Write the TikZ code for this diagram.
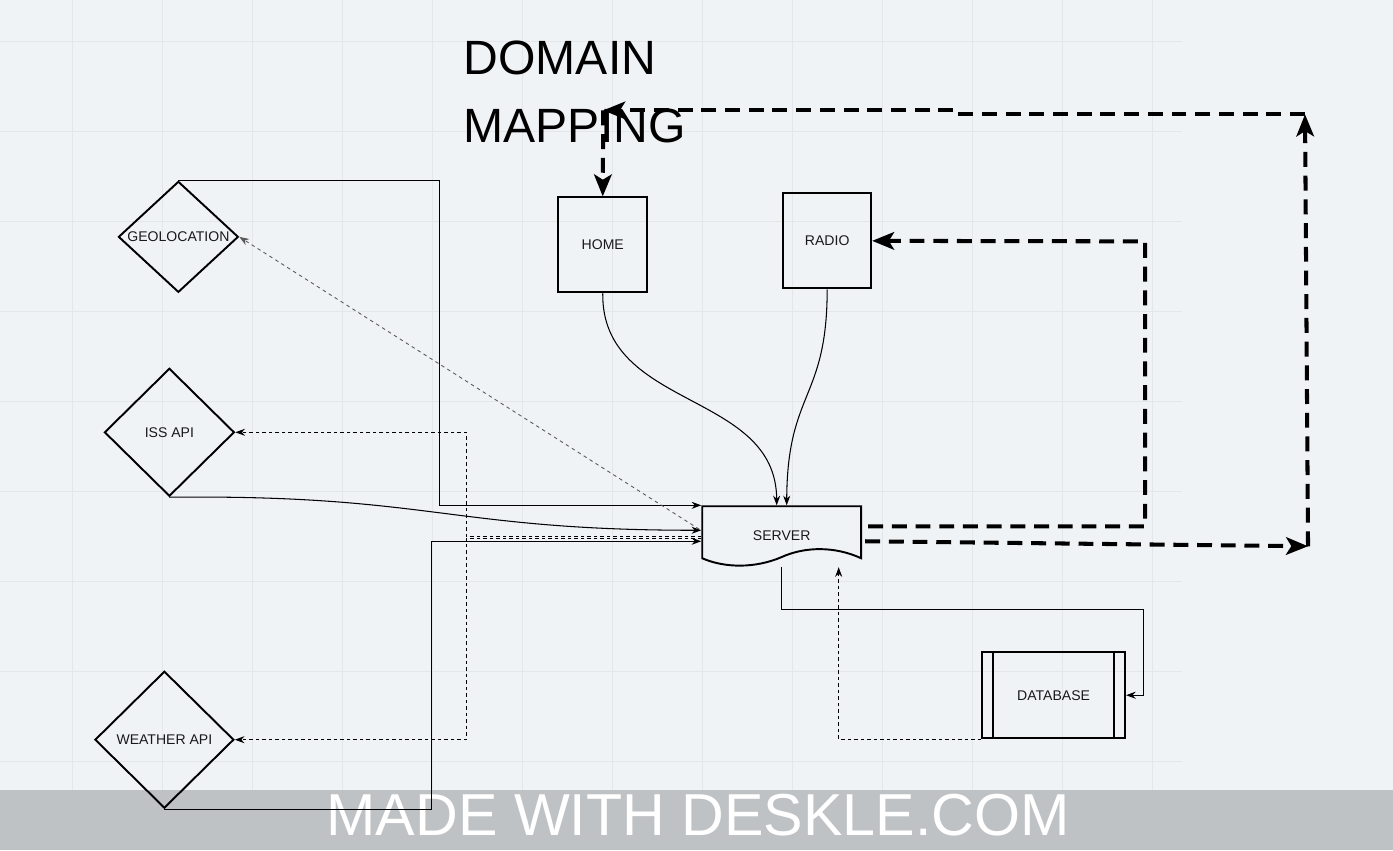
\documentclass[tikz,border=0pt]{standalone}
\usepackage{fontspec}
\setmainfont{Liberation Sans}
\usetikzlibrary{shapes.geometric,arrows.meta,calc}

\definecolor{paper}{HTML}{F0F3F6}
\definecolor{gridline}{HTML}{E3E7EB}
\definecolor{banner}{HTML}{BFC2C5}

\tikzset{
  box/.style={draw, line width=1.1pt, inner sep=0pt, text=black!90, font=\fontsize{8}{9}\selectfont},
  choice/.style={box, diamond},
  link/.style={line width=0.6pt, -{Stealth[length=5.5pt,width=4pt]}},
  dotlink/.style={link, dash pattern=on 2pt off 1.7pt},
  faintlink/.style={link, line width=0.5pt, draw=black!65, dash pattern=on 2pt off 2pt},
  mapping/.style={line width=2.3pt, dash pattern=on 8.5pt off 5pt, -{Stealth[length=12.5pt,width=10pt,inset=3pt]}},
}

\begin{document}
\begin{tikzpicture}[x=0.02cm, y=-0.02cm]

\fill[paper] (0,0) rectangle (1393,850);
\foreach \x in {72,162,...,1152}
  \draw[gridline, line width=0.5pt] (\x,0) -- (\x,790);
\foreach \y in {41,131,...,761}
  \draw[gridline, line width=0.5pt] (0,\y) -- (1182,\y);

\fill[banner] (0,790) rectangle (1393,850);
\node[anchor=base, inner sep=0pt, text=white, font=\fontsize{33.7}{36}\selectfont] (made) at (698,835) {MADE WITH DESKLE.COM};

\node[anchor=base west, inner sep=0pt, font=\fontsize{27.4}{30}\selectfont] (domain) at (463,74) {DOMAIN};
\node[anchor=base west, inner sep=0pt, font=\fontsize{27.4}{30}\selectfont] (mapping) at (463,142) {MAPPING};

\node[choice, minimum width=2.4cm, minimum height=2.22cm] (geo) at (178,236.5) {\makebox[0pt]{GEOLOCATION}};
\node[choice, minimum width=2.6cm, minimum height=2.56cm] (iss) at (169,432) {\makebox[0pt]{ISS API}};
\node[choice, minimum width=2.78cm, minimum height=2.74cm] (weather) at (164,739.5) {\makebox[0pt]{WEATHER API}};

\node[box, minimum width=1.78cm, minimum height=1.9cm] (home) at (602.5,244.5) {HOME};
\node[box, minimum width=1.76cm, minimum height=1.9cm] (radio) at (827,240.5) {RADIO};
\node[box, minimum width=2.86cm, minimum height=1.72cm] (db) at (1053.5,695) {DATABASE};
\draw[line width=1.1pt] ($(db.north west)+(12,0)$) -- ($(db.south west)+(12,0)$);
\draw[line width=1.1pt] ($(db.north east)+(-12,0)$) -- ($(db.south east)+(-12,0)$);

\node[box, draw=none, minimum width=3.18cm, minimum height=1.2cm] (server) at (781.5,535) {SERVER};
\draw[line width=1.1pt] (781.5,506) -| (861,558)
  .. controls (835,546) and (805,546) .. (781,557)
  .. controls (755,568) and (725,568) .. (702,558) |- (781.5,506);

% services and server
\draw[link] (geo.north) -- ++(261,0) |- ($(server.north west)+(0,1)$);
\draw[faintlink] ($(server.west)+(-2,-6)$) -- (geo.east);
\draw[link] (iss.south) .. controls (430,494) and (450,530) .. ($(server.west)+(0,-5)$);
\draw[dotlink] ($(server.west)+(0,1)$) -- ++(-235,0) |- (iss.east);
\draw[dotlink] ($(server.west)+(0,3)$) -- ++(-235,0) |- (weather.east);
\draw[link] (weather.south) -- ++(267,0) |- ($(server.west)+(0,6)$);

\draw[link] (home.south) .. controls (601,410) and (776,390) .. ($(server.north)+(-5,1)$);
\draw[link] (radio.south) .. controls (827,400) and (787,390) .. ($(server.north)+(5,1)$);

\draw[link] ($(server.south)+(0,1)$) -- ++(0,42) -| ($(db.east)+(17,0)$) -- (db.east);
\draw[dotlink] (db.south west) -| ($(server.south)+(57,1)$);

% domain mapping
\coordinate (farcorner) at (1308,546);
\coordinate (topcorner) at (1305,114);
\coordinate (topleft) at (603,110);

\draw[mapping] ($(server.east)+(6,-9)$) -- (1145,526) -- (1145,241) -- (radio.east);
\draw[mapping] ($(server.east)+(3,6)$) -- (farcorner);
\draw[mapping] (farcorner) -- (topcorner);
\draw[mapping] (topcorner) -- (960,114) -- (960,110) -- (topleft);
\draw[mapping] (topleft) -- (home.north);

\end{tikzpicture}
\end{document}
